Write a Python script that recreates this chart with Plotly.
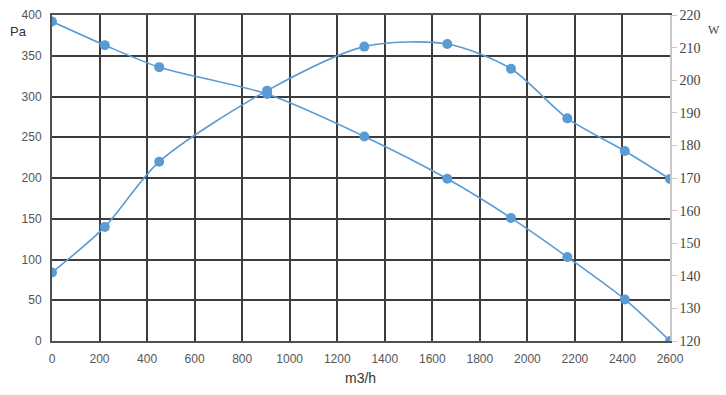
import plotly.graph_objects as go

flow = [0, 222, 451, 905, 1314, 1663, 1931, 2168, 2410, 2600]
pressure = [392, 363, 336, 303, 251, 199, 151, 103, 51, 0]
flow_w = [0, 222, 451, 905, 1314, 1663, 1931, 2168, 2410, 2600]
power = [141, 155, 175, 196.8, 210.3, 211.1, 203.5, 188.3, 178.3, 169.7]

x_ticks = list(range(0, 2601, 200))
y_ticks = list(range(0, 401, 50))
y2_ticks = list(range(120, 221, 10))

blue = "#5B9BD5"
grid = "#3c3c3c"
tick_font = dict(family="Liberation Sans, Arial", size=12, color="#555")
serif_font = dict(family="Liberation Serif, DejaVu Serif", size=14, color="#444")

fig = go.Figure()
fig.add_trace(go.Scatter(x=flow, y=pressure, mode="lines+markers",
                         line=dict(color=blue, width=1.6, shape="spline", smoothing=0.8),
                         marker=dict(color=blue, size=10), showlegend=False))
fig.add_trace(go.Scatter(x=flow_w, y=power, mode="lines+markers", yaxis="y2",
                         line=dict(color=blue, width=1.6, shape="spline", smoothing=0.8),
                         marker=dict(color=blue, size=10), showlegend=False))

W_, H_ = 726, 395
l, r, t, b = 52, 56, 15, 54
pw, ph = W_ - l - r, H_ - t - b


def px_ann(text, px, py, font):
    return dict(text=text, x=(px - l) / pw, y=1 - (py - t) / ph, xref="paper", yref="paper",
                showarrow=False, font=font, xanchor="center", yanchor="middle")


fig.update_layout(
    width=W_, height=H_,
    margin=dict(l=l, r=r, t=t, b=b, autoexpand=False),
    paper_bgcolor="white", plot_bgcolor="white",
    xaxis=dict(range=[0, 2600], tickvals=x_ticks, ticktext=[str(v) for v in x_ticks],
               showgrid=True, gridcolor=grid, gridwidth=1.6,
               showline=True, linecolor="#505050", linewidth=2, mirror=True,
               zeroline=False, ticks="", tickfont=tick_font, ticklabelstandoff=6),
    yaxis=dict(range=[0, 400], tickvals=y_ticks, ticktext=[str(v) for v in y_ticks],
               showgrid=True, gridcolor=grid, gridwidth=1.6,
               showline=True, linecolor="#505050", linewidth=2,
               zeroline=False, ticks="", tickfont=tick_font, ticklabelstandoff=6),
    yaxis2=dict(range=[120, 220], tickvals=y2_ticks, ticktext=[str(v) for v in y2_ticks],
                overlaying="y", side="right", showgrid=False, zeroline=False,
                showline=True, linecolor="#c8c8c8", linewidth=1.5,
                ticks="outside", ticklen=5, tickcolor="#c8c8c8",
                tickfont=serif_font),
    annotations=[
        px_ann("Pa", 18, 31, dict(family="Liberation Sans, Arial", size=13, color="#333")),
        px_ann("W", 714, 30, dict(family="Liberation Serif", size=12, color="#444")),
        px_ann("m3/h", 360, 378, dict(family="Liberation Sans, Arial", size=14, color="#333")),
    ],
)

fig.write_html("out.html", config={"displayModeBar": False},
               post_script="document.body.style.margin='0';document.body.style.overflow='hidden';")
